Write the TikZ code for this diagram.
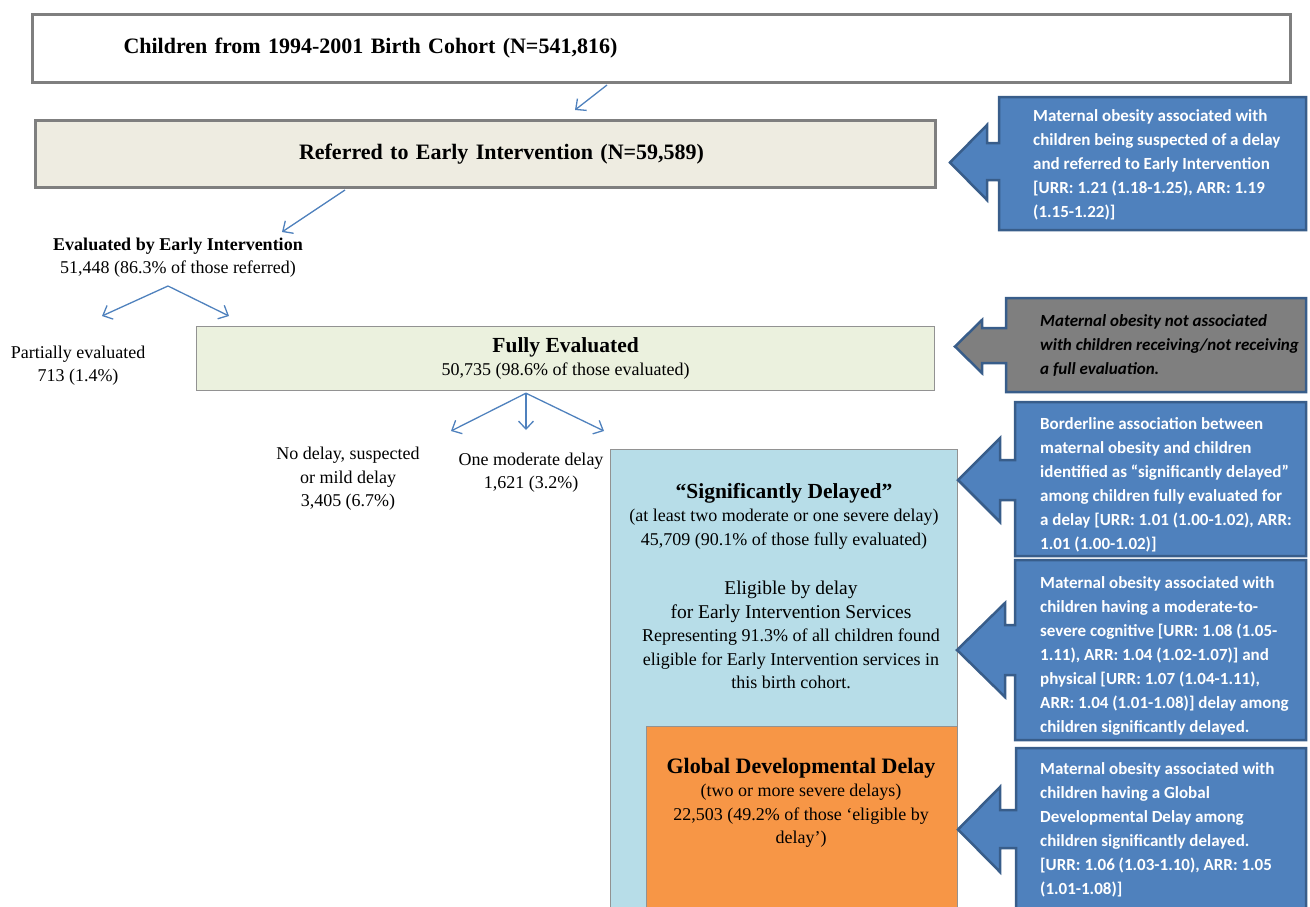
\documentclass[tikz,border=0pt]{standalone}
\usepackage{fontspec}
\setmainfont{Liberation Serif}
\newfontfamily\calloutfont{Carlito}
\usetikzlibrary{positioning,arrows.meta,calc}
\definecolor{flowblue}{HTML}{4F81BD}
\definecolor{calloutedge}{HTML}{385D8A}
\definecolor{calloutgray}{HTML}{7F7F7F}
\definecolor{boxedge}{HTML}{7F7F7F}
\definecolor{refbg}{HTML}{EEECE1}
\definecolor{fullbg}{HTML}{EBF1DE}
\definecolor{sigbg}{HTML}{B7DDE8}
\definecolor{gddbg}{HTML}{F79646}

\begin{document}
\begin{tikzpicture}[x=1pt,y=-1pt,>={Straight Barb[length=8pt,width=15pt]},
  outer/.style={draw=boxedge,line width=3pt,inner sep=0pt},
  thinbox/.style={draw=boxedge!85,line width=1.2pt,inner sep=0pt},
  flow/.style={->,draw=flowblue,line width=1.3pt},
  txt/.style={align=center,inner sep=0pt,font=\fontsize{18}{23.5}\selectfont},
  head/.style={font=\bfseries\fontsize{22}{26}\selectfont},
  note/.style={align=left,inner sep=0pt,anchor=north west,text=white,font=\calloutfont\bfseries\fontsize{17}{24}\selectfont},
  darknote/.style={note,text=black,font=\calloutfont\bfseries\itshape\fontsize{17}{24}\selectfont},
  callout/.style={draw=calloutedge,line width=2.5pt,line join=miter}]
\clip (0,0) rectangle (1310,906);
% cohort, referral
\node[outer,fill=white,anchor=north west,minimum width=1258,minimum height=68,text width=1076,inner xsep=91,align=left,head] (cohort) at (31,13) {Children from 1994-2001 Birth Cohort (N=541,816)};
\node[outer,fill=refbg,anchor=north west,minimum width=900,minimum height=67,text width=900,align=center,head] (referred) at (34,119) {\hspace*{32pt}Referred to Early Intervention (N=59,589)};
\coordinate (refin) at (575,110);
\draw[flow] ($(cohort.south west)+(576,1)$) -- (refin);
% evaluation
\node[txt] (evaluated) at (178,257.5) {\textbf{Evaluated by Early Intervention}\\51,448 (86.3\% of those referred)};
\coordinate (evalin) at (282,232);
\draw[flow] ($(referred.south west)+(311,1)$) -- (evalin);
\coordinate (evalfork) at (168,286);
\coordinate (partin) at (102,316);
\coordinate (fullin) at (229,316);
\draw[flow] (evalfork) -- (partin);
\draw[flow] (evalfork) -- (fullin);
\node[txt] (partial) at (78,365.5) {Partially evaluated\\713 (1.4\%)};
\node[thinbox,fill=fullbg,anchor=north west,minimum width=738,minimum height=64,txt] (fully) at (196,326) {{\bfseries\fontsize{21.5}{25}\selectfont Fully Evaluated}\\50,735 (98.6\% of those evaluated)};
% outcomes of the full evaluation
\coordinate (fullfork) at ($(fully.south west)+(330,2)$);
\coordinate (noin) at (451,431);
\coordinate (modin) at (526,430);
\coordinate (sigin) at (604,431);
\foreach \e in {noin,modin,sigin} \draw[flow] (fullfork) -- (\e);
\node[txt] (nodelay) at (348,479) {No delay, suspected\\or mild delay\\3,405 (6.7\%)};
\node[txt] (onemod) at (531,472.5) {One moderate delay\\1,621 (3.2\%)};
\node[thinbox,fill=sigbg,anchor=north west,minimum width=347,minimum height=480] (sigbox) at (610,449) {};
\node[txt] (sigtxt) at (784,516) {{\bfseries\fontsize{21.5}{26}\selectfont “Significantly Delayed”}\\(at least two moderate or one severe delay)\\45,709 (90.1\% of those fully evaluated)};
\node[txt] (elig) at (791,635) {{\fontsize{19.5}{25}\selectfont Eligible by delay}\\{\fontsize{19.5}{25}\selectfont for Early Intervention Services}\\Representing 91.3\% of all children found\\eligible for Early Intervention services in\\this birth cohort.};
\node[thinbox,fill=gddbg,anchor=north west,minimum width=311,minimum height=210] (gdd) at (646,726) {};
\node[txt] (gddtxt) at (801,803) {{\bfseries\fontsize{22}{26}\selectfont Global Developmental Delay}\\(two or more severe delays)\\22,503 (49.2\% of those ‘eligible by\\delay’)};
% callouts
\foreach \l/\t/\b/\sa/\sb/\h/\ha/\hb/\tx/\col in {999/97/230/143/180/987/125/200/950/flowblue,
    1006/298/392/328/363/982/320/373/955/calloutgray, 1015/402/556/460/500/1000/438/522/958/flowblue,
    1015/560/740/625/675/1005/603/697/957/flowblue, 1016/748/915/810/848/1000/787/872/958/flowblue}
  \draw[callout,fill=\col] (\l,\t) -- (1306,\t) -- (1306,\b) -- (\l,\b) -- (\l,\sb) -- (\h,\sb) -- (\h,\hb)
    -- (\tx,{(\ha+\hb)/2}) -- (\h,\ha) -- (\h,\sa) -- (\l,\sa) -- cycle;
\node[note] (note1) at (1033,109) {Maternal obesity associated with\\children being suspected of a delay\\and referred to Early Intervention\\{}[URR: 1.21 (1.18-1.25), ARR: 1.19\\(1.15-1.22)]};
\node[darknote] (note2) at (1040,314) {Maternal obesity not associated\\with children receiving/not receiving\\a full evaluation.};
\node[note] (note3) at (1040,417) {Borderline association between\\maternal obesity and children\\identified as “significantly delayed”\\among children fully evaluated for\\a delay [URR: 1.01 (1.00-1.02), ARR:\\1.01 (1.00-1.02)]};
\node[note] (note4) at (1040,576) {Maternal obesity associated with\\children having a moderate-to-\\severe cognitive [URR: 1.08 (1.05-\\1.11), ARR: 1.04 (1.02-1.07)] and\\physical [URR: 1.07 (1.04-1.11),\\ARR: 1.04 (1.01-1.08)] delay among\\children significantly delayed.};
\node[note] (note5) at (1040,762) {Maternal obesity associated with\\children having a Global\\Developmental Delay among\\children significantly delayed.\\{}[URR: 1.06 (1.03-1.10), ARR: 1.05\\(1.01-1.08)]};
\end{tikzpicture}
\end{document}
